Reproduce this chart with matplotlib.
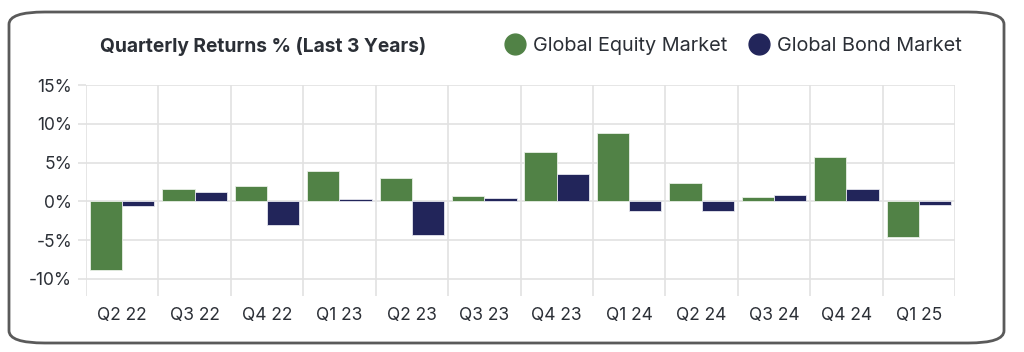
import numpy as np
import matplotlib
matplotlib.use("Agg")
import matplotlib.pyplot as plt
from matplotlib.patches import FancyBboxPatch
from matplotlib.lines import Line2D

# Quarterly returns, %
quarters = ["Q2 22", "Q3 22", "Q4 22", "Q1 23", "Q2 23", "Q3 23",
            "Q4 23", "Q1 24", "Q2 24", "Q3 24", "Q4 24", "Q1 25"]
equity = [-8.85, 1.55, 2.0, 3.9, 3.0, 0.7, 6.3, 8.85, 2.4, 0.6, 5.7, -4.6]
bonds = [-0.6, 1.2, -3.1, 0.3, -4.3, 0.4, 3.5, -1.3, -1.2, 0.8, 1.6, -0.5]
y_ticks = [-10, -5, 0, 5, 10, 15]

GREEN = "#518246"
NAVY = "#22255a"
TEXT = "#2b2f36"
GRID = "#e2e2e2"

plt.rcParams["font.family"] = ["Inter", "DejaVu Sans"]

fig = plt.figure(figsize=(10.24, 3.52), dpi=100)

# rounded card border (kept behind the axes)
card = FancyBboxPatch((9 / 1024, 9 / 352), 995 / 1024, 331 / 352,
                      boxstyle="round,pad=0,rounding_size=0.035",
                      transform=fig.transFigure, facecolor="white",
                      edgecolor="#5a5a5a", linewidth=2,
                      mutation_aspect=352 / 1024 * 2.9, zorder=-10)
fig.patches.append(card)

ax = fig.add_axes([86 / 1024, 1 - 296 / 352, (955 - 86) / 1024, (296 - 85) / 352])
ax.set_facecolor("none")
ax.set_zorder(5)

x = np.arange(len(quarters))
w = 0.445
ax.bar(x - w / 2, equity, width=w, color=GREEN, edgecolor="#e8efe6", linewidth=0.6, zorder=3)
ax.bar(x + w / 2, bonds, width=w, color=NAVY, edgecolor="#e6e6ee", linewidth=0.6, zorder=3)

ax.set_xlim(-0.5, len(quarters) - 0.5)
ax.set_ylim(-12.2, 15)

ax.set_yticks(y_ticks)
ax.set_yticklabels([f"{v}%" for v in y_ticks])
ax.set_xticks(x)
ax.set_xticklabels(quarters)
ax.set_xticks(np.arange(-0.5, len(quarters)), minor=True)

ax.grid(axis="y", which="major", color=GRID, linewidth=1.2, zorder=0)
ax.grid(axis="x", which="minor", color=GRID, linewidth=1.2, zorder=0)
ax.tick_params(axis="y", length=6, color=GRID, width=1.2, pad=4, labelsize=12.5, labelcolor=TEXT)
ax.tick_params(axis="x", which="major", length=0, pad=8, labelsize=12.5, labelcolor=TEXT)
ax.tick_params(axis="x", which="minor", length=0)
for s in ax.spines.values():
    s.set_visible(False)

fig.text(100 / 1024, 1 - 46 / 352, "Quarterly Returns % (Last 3 Years)",
         fontsize=13.8, fontweight="bold", color=TEXT, va="center", ha="left")

handles = [Line2D([], [], marker="o", linestyle="", markersize=15, color=GREEN),
           Line2D([], [], marker="o", linestyle="", markersize=15, color=NAVY)]
fig.legend(handles, ["Global Equity Market", "Global Bond Market"],
           loc="center left", bbox_to_anchor=(485 / 1024, 1 - 46 / 352),
           ncol=2, frameon=False, fontsize=14.3, labelcolor=TEXT,
           handletextpad=0.3, columnspacing=1.0, handlelength=1.2)

fig.savefig("out.png", dpi=100)
